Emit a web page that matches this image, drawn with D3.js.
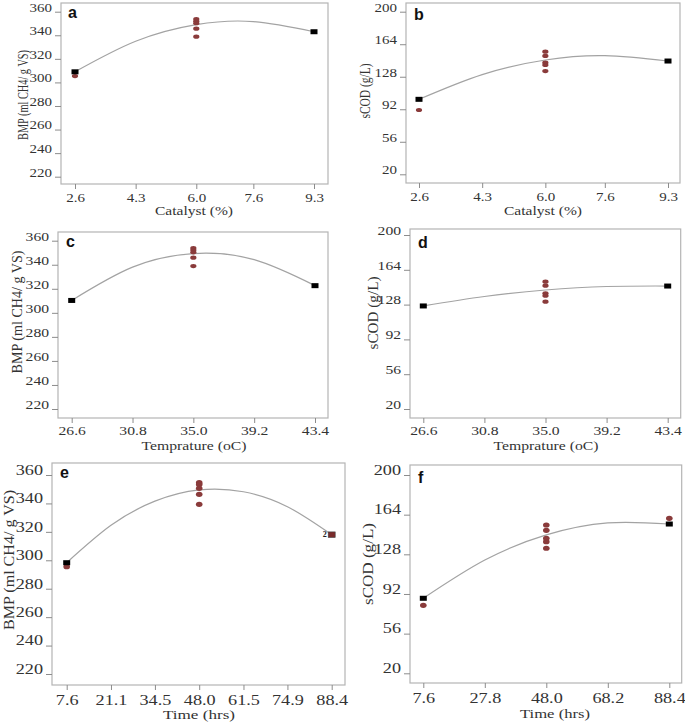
<!DOCTYPE html>
<html><head><meta charset="utf-8">
<script src="https://cdn.jsdelivr.net/npm/d3@7"></script>
<style>body{margin:0;background:#fff} svg{display:block}</style>
</head><body>
<svg id="chart" width="685" height="723"></svg>
<script>
// ---------- DATA ----------
const catalystTicks = [2.6, 4.3, 6.0, 7.6, 9.3];
const tempTicks = [26.6, 30.8, 35.0, 39.2, 43.4];
const timeTicksE = [7.6, 21.1, 34.5, 48.0, 61.5, 74.9, 88.4];
const timeTicksF = [7.6, 27.8, 48.0, 68.2, 88.4];
const bmpTicks = [220, 240, 260, 280, 300, 320, 340, 360];
const scodTicks = [20, 56, 92, 128, 164, 200];

// a: BMP vs Catalyst
const aDesign = [[2.6, 309], [9.3, 343]];
const aActual = [[2.6, 305.4], [6.0, 353.8], [6.0, 352.0], [6.0, 350.2], [6.0, 345.6], [6.0, 338.8]];
const aCurve = [309, 334.9, 349, 351.6, 343];
// b: sCOD vs Catalyst
const bDesign = [[2.6, 103], [9.3, 145.4]];
const bActual = [[2.6, 91.2], [6.0, 155.7], [6.0, 151.0], [6.0, 143.6], [6.0, 141.0], [6.0, 134.3]];
const bCurve = [103, 130.4, 146.5, 151.3, 145.4];
// c: BMP vs Temperature
const cDesign = [[26.6, 310.3], [43.4, 322.6]];
const cActual = [[35.0, 353.9], [35.0, 352.2], [35.0, 350.3], [35.0, 345.9], [35.0, 338.9]];
const cCurve = [310.3, 338.0, 349.3, 344.2, 322.6];
// d: sCOD vs Temperature
const dDesign = [[26.6, 126.6], [43.4, 147.2]];
const dActual = [[35.0, 151.7], [35.0, 147.6], [35.0, 139.7], [35.0, 137.2], [35.0, 131.0]];
const dCurve = [126.6, 136.4, 143.1, 146.7, 147.2];
// e: BMP vs Time
const eDesign = [[7.6, 298.3]];
const eDesignRed = [[88.4, 318, "2"]];
const eActual = [[7.6, 295.5], [48.0, 354.6], [48.0, 353.4], [48.0, 350.6], [48.0, 346.4], [48.0, 339.4]];
const eCurve = [298.3, 324.6, 341.6, 349.5, 348.2, 337.7, 318];
// f: sCOD vs Time
const fDesign = [[7.6, 88.1], [88.4, 155.5]];
const fActual = [[7.6, 81.7], [48.0, 154.6], [48.0, 149.8], [48.0, 142.5], [48.0, 139.5], [48.0, 133.5], [88.4, 160.7]];
const fCurve = [88.1, 122.8, 145.6, 156.5, 155.5];

const bmpTitle = "BMP (ml CH4/ g VS)";
const scodTitle = "sCOD (g/L)";

// ---------- PANELS (layout) ----------
const panels = [
  {id:"a", xTicks:catalystTicks, yTicks:bmpTicks, design:aDesign, designRed:[], actual:aActual, curve:aCurve,
   xTitle:"Catalyst (%)", yTitle:bmpTitle,
   L:{x0:61,x1:328,y0:3,y1:184, xr:[75,314], yr:[176.7,11.7], fs:12.5, sx:1.2, pad:4, lab:{x:68,y:18},
      xt:{x:194,y:215,len:78,fs:12.5}, yt:{x:23,y:95,len:90}}},
  {id:"b", xTicks:catalystTicks, yTicks:scodTicks, design:bDesign, designRed:[], actual:bActual, curve:bCurve,
   xTitle:"Catalyst (%)", yTitle:scodTitle,
   L:{x0:406,x1:680,y0:3,y1:183, xr:[419,668], yr:[174.3,11.7], fs:12.5, sx:1.2, pad:4, lab:{x:414,y:20},
      xt:{x:543,y:215,len:78,fs:12.5}, yt:{x:365,y:91,len:55}}},
  {id:"c", xTicks:tempTicks, yTicks:bmpTicks, design:cDesign, designRed:[], actual:cActual, curve:cCurve,
   xTitle:"Temprature (oC)", yTitle:bmpTitle,
   L:{x0:58,x1:328,y0:232,y1:418, xr:[71.7,315], yr:[409,240.7], fs:12.5, sx:1.25, pad:3, lab:{x:66,y:247},
      xt:{x:194,y:450,len:105,fs:12}, yt:{x:17,y:312,len:123}}},
  {id:"d", xTicks:tempTicks, yTicks:scodTicks, design:dDesign, designRed:[], actual:dActual, curve:dCurve,
   xTitle:"Temprature (oC)", yTitle:scodTitle,
   L:{x0:410,x1:680.7,y0:229,y1:418, xr:[423.3,667.7], yr:[409,235], fs:12.5, sx:1.25, pad:3, lab:{x:418,y:248},
      xt:{x:546,y:450,len:105,fs:12}, yt:{x:373,y:313,len:73}}},
  {id:"e", xTicks:timeTicksE, yTicks:bmpTicks, design:eDesign, designRed:eDesignRed, actual:eActual, curve:eCurve,
   xTitle:"Time (hrs)", yTitle:bmpTitle,
   L:{x0:52,x1:345,y0:463,y1:685, xr:[66.7,331.7], yr:[674,475], fs:14, sx:1.3, pad:5, lab:{x:60,y:478},
      xt:{x:199,y:719,len:72,fs:12.5}, yt:{x:9,y:560,len:140}}},
  {id:"f", xTicks:timeTicksF, yTicks:scodTicks, design:fDesign, designRed:[], actual:fActual, curve:fCurve,
   xTitle:"Time  (hrs)", yTitle:scodTitle,
   L:{x0:410,x1:681.7,y0:465,y1:683, xr:[423.3,669.3], yr:[673.3,475], fs:14, sx:1.3, pad:5, lab:{x:418,y:483},
      xt:{x:555,y:718,len:70,fs:12.5}, yt:{x:368,y:564,len:82}}}
];

const svg = d3.select("#chart");
const serif = "'Liberation Serif','Times New Roman',serif";
const redCol = "#8a3b3b";

panels.forEach(p => {
  const L = p.L;
  const g = svg.append("g");
  const xDom = [p.xTicks[0], p.xTicks[p.xTicks.length-1]];
  const yDom = [p.yTicks[0], p.yTicks[p.yTicks.length-1]];
  const x = d3.scaleLinear().domain(xDom).range(L.xr);
  const y = d3.scaleLinear().domain(yDom).range(L.yr);
  const big = p.id==="e"||p.id==="f";

  // frame
  g.append("rect").attr("x",L.x0).attr("y",L.y0).attr("width",L.x1-L.x0).attr("height",L.y1-L.y0)
    .attr("fill","none").attr("stroke","#b4b4b4").attr("stroke-width",1.2);

  // axes
  const xa = g.append("g").attr("transform",`translate(0,${L.y1})`)
    .call(d3.axisBottom(x).tickValues(p.xTicks).tickFormat(d3.format(".1f")).tickSizeOuter(0).tickSize(5).tickPadding(L.pad));
  const ya = g.append("g").attr("transform",`translate(${L.x0},0)`)
    .call(d3.axisLeft(y).tickValues(p.yTicks).tickFormat(d3.format("d")).tickSizeOuter(0).tickSize(6).tickPadding(3));
  [xa, ya].forEach(a => {
    a.select(".domain").remove();
    a.selectAll(".tick line").attr("stroke","#8c8c8c");
    a.selectAll(".tick text").attr("fill","#333").style("font-family",serif).style("font-size",L.fs+"px")
      .attr("textLength", function(){ return this.getComputedTextLength()*L.sx; })
      .attr("lengthAdjust","spacingAndGlyphs");
  });
  ya.selectAll(".tick text").attr("dy","-0.05em");

  // fitted curve
  const line = d3.line().x((d,i)=>x(p.xTicks[i])).y(d=>y(d)).curve(d3.curveNatural);
  g.append("path").datum(p.curve).attr("d",line).attr("fill","none").attr("stroke","#a3a3a3").attr("stroke-width",1.2);

  // actual points (red)
  g.selectAll(".act").data(p.actual).enter().append("ellipse")
    .attr("cx",d=>x(d[0])).attr("cy",d=>y(d[1]))
    .attr("rx", big?3.3:3.1).attr("ry", big?2.6:2.1)
    .attr("fill",redCol);

  // design points (black squares)
  g.selectAll(".des").data(p.design).enter().append("rect")
    .attr("x",d=>x(d[0])-3.5).attr("y",d=>y(d[1])-2.5).attr("width",7).attr("height",5).attr("fill","#000");
  g.selectAll(".desr").data(p.designRed).enter().append("rect")
    .attr("x",d=>x(d[0])-3.5).attr("y",d=>y(d[1])-2.8).attr("width",7).attr("height",5.6)
    .attr("fill","#7a2b2b").attr("stroke","#444").attr("stroke-width",0.6);
  g.selectAll(".desrl").data(p.designRed).enter().append("text")
    .attr("x",d=>x(d[0])-5).attr("y",d=>y(d[1])+2.5).attr("text-anchor","end")
    .style("font-family",serif).style("font-size","8px").style("font-weight","bold").attr("fill","#222")
    .text(d=>d[2]);

  // panel letter
  g.append("text").attr("x",L.lab.x).attr("y",L.lab.y).text(p.id)
    .style("font-family","'Liberation Sans',Arial,sans-serif").style("font-weight","bold").style("font-size","16px").attr("fill","#111");

  // axis titles
  g.append("text").attr("x",L.xt.x).attr("y",L.xt.y).attr("text-anchor","middle").text(p.xTitle)
    .style("font-family",serif).style("font-size",L.xt.fs+"px").attr("fill","#333")
    .attr("textLength",L.xt.len).attr("lengthAdjust","spacingAndGlyphs");
  g.append("text").attr("transform",`translate(${L.yt.x},${L.yt.y}) rotate(-90)`).attr("text-anchor","middle")
    .attr("dy","0.35em").text(p.yTitle)
    .style("font-family",serif).style("font-size","14px").attr("fill","#333")
    .attr("textLength",L.yt.len).attr("lengthAdjust","spacingAndGlyphs");
});
</script>
</body></html>
